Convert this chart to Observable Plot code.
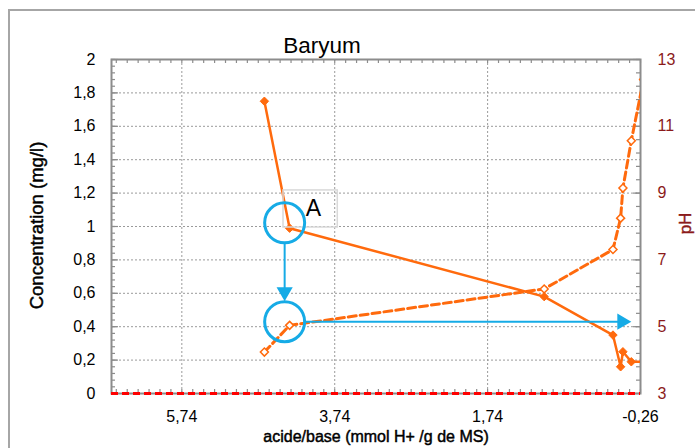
<!DOCTYPE html>
<html><head><meta charset="utf-8">
<script src="https://cdn.jsdelivr.net/npm/d3@7"></script>
<script src="https://cdn.jsdelivr.net/npm/@observablehq/plot@0.6"></script>
<style>
html,body{margin:0;padding:0;background:#fff;overflow:hidden;width:695px;height:448px}
#wrap{position:relative;width:695px;height:448px;overflow:hidden}
#border{position:absolute;left:8px;top:9px;width:720px;height:470px;border:2px solid #a6a6a6;box-sizing:border-box}
#chart{position:absolute;left:0;top:0}
</style></head><body><div id="wrap"><div id="border"></div><div id="chart"></div></div>
<script>
// ---- data ----
const acidBase      = [4.66, 4.33, 1.00, 0.10, 0.00, -0.03, -0.14, -0.30];
const concentration = [1.75, 0.99, 0.58, 0.35, 0.16, 0.25, 0.19, 0.19];
const pH            = [4.24, 5.04, 6.13, 7.31, 8.25, 9.15, 10.57, 12.4];
const detectionLimit = [0];

const xDomain = [-0.26, 6.66];
const xTickValues = [5.74, 3.74, 1.74, -0.26];
const yTickValues = [0, 0.2, 0.4, 0.6, 0.8, 1, 1.2, 1.4, 1.6, 1.8, 2];
const pHTickValues = [3, 5, 7, 9, 11, 13];
const pHDomain = [3, 13];

const title = "Baryum";
const xTitle = "acide/base (mmol H+ /g de MS)";
const yTitle = "Concentration (mg/l)";
const y2Title = "pH";

// annotations (in data units)
const highlightCircles = [{x: 4.395, y: 1.022}, {x: 4.395, y: 0.43}];
const arrowShafts = [
  {x1: 4.395, y1: 0.903, x2: 4.395, y2: 0.62},
  {x1: 4.145, y1: 0.43, x2: 0.03, y2: 0.43}
];
const arrowHeads = [{x: 4.395, y: 0.608, rotate: 180}, {x: -0.018, y: 0.43, rotate: 90}];
const labelA = [{text: "A", x: 4.02, y: 1.105}];
const labelBox = [{x1: 4.41, x2: 3.70, y1: 0.994, y2: 1.216}];

// ---- styling ----
const FONT = '"Liberation Sans", Arial, sans-serif';
const orange = "#ff6a0d", blue = "#16abe6", darkRed = "#8b1a1a", axisGray = "#8c8c8c";
const W = 695, H = 448, ML = 111, MR = 55, MT = 59, MB = 55;
const FW = W - ML - MR, FH = H - MT - MB;

const toY = p => (p - pHDomain[0]) / (pHDomain[1] - pHDomain[0]) * 2; // pH -> left scale
const fromY = y => pHDomain[0] + y / 2 * (pHDomain[1] - pHDomain[0]);
const comma = (d, n) => d.toFixed(n).replace(".", ",");

const pts = acidBase.map((x, i) => ({x, conc: concentration[i], ph: toY(pH[i])}));

const xMinor = d3.range(0, 49).map(i => -0.26 + i * 2 / 14).filter(v => v <= 6.66);
const yMinor = d3.range(0, 51).map(i => i * 0.04);
const yMajor = yTickValues;
const y2Minor = d3.range(0, 26).map(i => i * 0.08);
const y2Major = pHTickValues.map(toY);

const titleStyle = {strokeWidth: 0.45, paintOrder: "fill"};

const chart = Plot.plot({
  width: W, height: H,
  marginLeft: ML, marginRight: MR, marginTop: MT, marginBottom: MB,
  style: {fontFamily: FONT, fontSize: "16px", background: "transparent"},
  x: {domain: xDomain, reverse: true},
  y: {domain: [0, 2]},
  marks: [
    // grid
    Plot.ruleY(yTickValues.slice(1, -1), {stroke: "#9a9a9a", strokeWidth: 1, strokeDasharray: "2,2"}),
    Plot.ruleX(xTickValues.slice(0, 3), {stroke: "#9a9a9a", strokeWidth: 1, strokeDasharray: "2,2"}),
    // inner ticks
    Plot.ruleY(yMinor, {insetRight: FW - 4, stroke: axisGray, strokeWidth: 1.2}),
    Plot.ruleY(yMajor, {insetRight: FW - 7, stroke: axisGray, strokeWidth: 1.2}),
    Plot.ruleY(y2Minor, {insetLeft: FW - 4, stroke: axisGray, strokeWidth: 1.2}),
    Plot.ruleY(y2Major, {insetLeft: FW - 7, stroke: axisGray, strokeWidth: 1.2}),
    Plot.ruleX(xMinor, {insetTop: FH - 4, stroke: axisGray, strokeWidth: 1.2}),
    Plot.ruleX(xMinor, {insetBottom: FH - 4, stroke: axisGray, strokeWidth: 1.2}),
    Plot.frame({stroke: axisGray, strokeWidth: 2}),
    // axes labels
    Plot.axisY(yTickValues, {anchor: "left", tickSize: 0, tickPadding: 16, label: null,
      tickFormat: d => comma(d, 1).replace(/,0$/, ""), fontSize: 16}),
    Plot.axisY(y2Major, {anchor: "right", tickSize: 0, tickPadding: 17, label: null,
      tickFormat: d => String(Math.round(fromY(d))), color: darkRed, fontSize: 16}),
    Plot.axisX(xTickValues, {anchor: "bottom", tickSize: 0, tickPadding: 17, label: null,
      tickFormat: d => comma(d, 2), fontSize: 16}),
    // detection limit
    Plot.ruleY(detectionLimit, {stroke: "#ff0000", strokeWidth: 3, strokeDasharray: "7,4"}),
    // series
    Plot.line(pts, {x: "x", y: "ph", stroke: orange, strokeWidth: 3, strokeDasharray: "8,4", clip: true}),
    Plot.line(pts, {x: "x", y: "conc", stroke: orange, strokeWidth: 2.5, clip: true}),
    Plot.dot(pts, {x: "x", y: "ph", symbol: "diamond2", r: 3.6, fill: "white", stroke: orange, strokeWidth: 1.5, clip: true}),
    Plot.dot(pts, {x: "x", y: "conc", symbol: "diamond2", r: 3.8, fill: orange, stroke: orange, strokeWidth: 1, clip: true}),
    // annotations
    Plot.rect(labelBox, {x1: "x1", x2: "x2", y1: "y1", y2: "y2", stroke: "#d9d9d9", strokeWidth: 1.5, fill: "none"}),
    Plot.text(labelA, {x: "x", y: "y", text: "text", fontSize: 23, fill: "#000"}),
    Plot.dot(highlightCircles, {x: "x", y: "y", r: 20, stroke: blue, strokeWidth: 3, fill: "none"}),
    Plot.link(arrowShafts, {x1: "x1", y1: "y1", x2: "x2", y2: "y2", stroke: blue, strokeWidth: 2}),
    Plot.dot(arrowHeads, {x: "x", y: "y", rotate: "rotate", symbol: "triangle", r: 6, fill: blue, stroke: "none"}),
    // titles
    Plot.text([title], {text: d => d, frameAnchor: "top", dx: -54, dy: -7, lineAnchor: "bottom", textAnchor: "middle", fontSize: 22.5, fill: "#000"}),
    Plot.text([xTitle], {text: d => d, frameAnchor: "bottom", dy: 48.5, lineAnchor: "bottom", textAnchor: "middle", fontSize: 16, fill: "#000", stroke: "#000", ...titleStyle}),
    Plot.text([yTitle], {text: d => d, frameAnchor: "left", dx: -69, dy: -1, rotate: -90, lineAnchor: "bottom", textAnchor: "middle", fontSize: 18.5, fill: "#000", stroke: "#000", ...titleStyle}),
    Plot.text([y2Title], {text: d => d, frameAnchor: "right", dx: 50, dy: -3, rotate: -90, lineAnchor: "bottom", textAnchor: "middle", fontSize: 17, fill: darkRed, stroke: darkRed, ...titleStyle})
  ]
});
document.getElementById("chart").appendChild(chart);
</script></body></html>
